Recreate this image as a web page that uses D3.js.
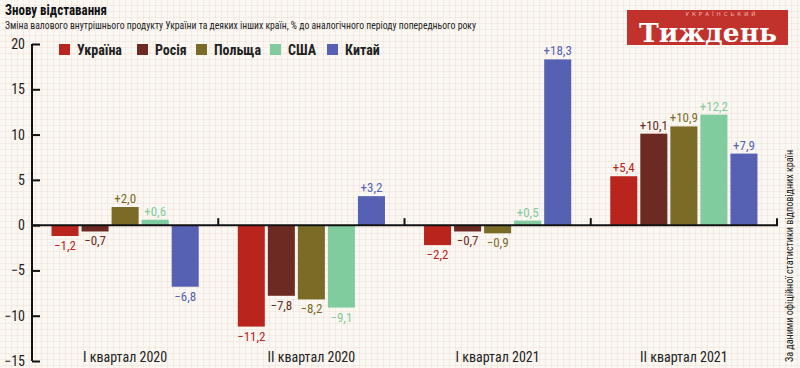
<!DOCTYPE html>
<meta charset="utf-8">
<script src="https://d3js.org/d3.v7.min.js"></script>
<style>
body { margin: 0; background: #fbf8f3; }
.cond { font-family: "Liberation Sans Narrow", "Roboto Condensed", "Open Sans", sans-serif; }
</style>
<div id="chart"></div>
<script>

const quarters = ["I квартал 2020", "II квартал 2020", "I квартал 2021", "II квартал 2021"];
const countries = ["Україна", "Росія", "Польща", "США", "Китай"];
const ukraine = [-1.2, -11.2, -2.2, 5.4];
const russia = [-0.7, -7.8, -0.7, 10.1];
const poland = [2.0, -8.2, -0.9, 10.9];
const usa = [0.6, -9.1, 0.5, 12.2];
const china = [-6.8, 3.2, 18.3, 7.9];
const yTicks = [20, 15, 10, 5, 0, -5, -10, -15];

const series = [ukraine, russia, poland, usa, china];
const colors = ["#b9251d", "#6d2a22", "#7a6c26", "#80cc9e", "#5661b3"];

const W = 800, H = 368;
const svg = d3.select("#chart").append("svg")
    .attr("width", W)
    .attr("height", H);

// graph paper background
const defs = svg.append("defs");
const pat = defs.append("pattern")
    .attr("id", "grid")
    .attr("width", 6)
    .attr("height", 6)
    .attr("patternUnits", "userSpaceOnUse");
pat.append("rect").attr("width", 6).attr("height", 6).attr("fill", "#fbf8f3");
pat.append("path")
    .attr("d", "M6 0 V6 M0 6 H6")
    .attr("stroke", "#eeded8")
    .attr("stroke-width", 1)
    .attr("fill", "none");
svg.append("rect").attr("width", W).attr("height", H).attr("fill", "url(#grid)");

const x0 = d3.scaleBand().domain(quarters).range([32, 777]).padding(0);
const x1 = d3.scaleBand().domain(countries).range([0, x0.bandwidth()])
    .paddingInner(0.1).paddingOuter(0.65);
const y = d3.scaleLinear().domain([-15, 20]).range([361, 44]);

const fmt = v => (v > 0 ? "+" : "\u2212") + d3.format(".1f")(Math.abs(v)).replace(".", ",");

// bars
const groups = svg.append("g").selectAll("g")
  .data(quarters)
  .join("g")
    .attr("transform", d => `translate(${x0(d)},0)`);

groups.selectAll("rect")
  .data((q, qi) => countries.map((c, ci) => ({c, ci, v: series[ci][qi]})))
  .join("rect")
    .attr("x", d => x1(d.c))
    .attr("width", x1.bandwidth())
    .attr("y", d => y(Math.max(0, d.v)))
    .attr("height", d => Math.abs(y(d.v) - y(0)))
    .attr("fill", d => colors[d.ci]);

groups.selectAll("text")
  .data((q, qi) => countries.map((c, ci) => ({c, ci, v: series[ci][qi]})))
  .join("text")
    .attr("class", "cond")
    .attr("x", d => x1(d.c) + x1.bandwidth() / 2)
    .attr("y", d => d.v > 0 ? y(d.v) - 4 : y(d.v) + 14)
    .attr("text-anchor", "middle")
    .attr("font-size", 13)
    .attr("fill", d => colors[d.ci])
    .text(d => fmt(d.v));

// y axis
const yAxis = d3.axisRight(y)
    .tickValues(yTicks)
    .tickSize(8)
    .tickFormat(d => "");
const ya = svg.append("g")
    .attr("transform", "translate(32,0)")
    .call(yAxis);
ya.select(".domain").attr("stroke", "#111").attr("stroke-width", 2)
  .attr("d", `M0,${y(20)}V${y(-15)}`);
ya.selectAll(".tick line").attr("stroke", "#111").attr("stroke-width", 2);

svg.append("g").selectAll("text")
  .data(yTicks)
  .join("text")
    .attr("class", "cond")
    .attr("x", 25)
    .attr("y", d => y(d) + 5)
    .attr("text-anchor", "end")
    .attr("font-size", 14)
    .attr("fill", "#222")
    .text(d => d < 0 ? "\u2212" + Math.abs(d) : d);

// zero line and group separators
svg.append("line")
    .attr("x1", 32).attr("x2", 778)
    .attr("y1", y(0)).attr("y2", y(0))
    .attr("stroke", "#111").attr("stroke-width", 2);
svg.append("g").selectAll("line")
  .data(quarters)
  .join("line")
    .attr("x1", d => x0(d) + x0.bandwidth())
    .attr("x2", d => x0(d) + x0.bandwidth())
    .attr("y1", y(0))
    .attr("y2", y(0) - 7)
    .attr("stroke", "#111").attr("stroke-width", 2);

// category labels
svg.append("g").selectAll("text")
  .data(quarters)
  .join("text")
    .attr("class", "cond")
    .attr("x", d => x0(d) + x0.bandwidth() / 2)
    .attr("y", 362)
    .attr("text-anchor", "middle")
    .attr("font-size", 14)
    .attr("fill", "#222")
    .text(d => d);

// legend
const legX = [59, 137, 196, 270, 327];
const leg = svg.append("g").selectAll("g")
  .data(countries)
  .join("g")
    .attr("transform", (d, i) => `translate(${legX[i]},44)`);
leg.append("rect")
    .attr("width", 11).attr("height", 11)
    .attr("fill", (d, i) => colors[i]);
leg.append("text")
    .attr("class", "cond")
    .attr("x", 18)
    .attr("y", 10.5)
    .attr("font-size", 14)
    .attr("font-weight", "bold")
    .attr("fill", "#222")
    .text(d => d);

// title
svg.append("text")
    .attr("class", "cond")
    .attr("x", 5).attr("y", 15)
    .attr("font-size", 14)
    .attr("font-weight", "bold")
    .attr("textLength", 102)
    .attr("lengthAdjust", "spacingAndGlyphs")
    .attr("fill", "#111")
    .text("Знову відставання");
svg.append("text")
    .attr("class", "cond")
    .attr("x", 5).attr("y", 29)
    .attr("font-size", 11)
    .attr("textLength", 471)
    .attr("lengthAdjust", "spacingAndGlyphs")
    .attr("fill", "#222")
    .text("Зміна валового внутрішнього продукту України та деяких інших країн, % до аналогічного періоду попереднього року");

// source note
svg.append("text")
    .attr("class", "cond")
    .attr("transform", "translate(793,362) rotate(-90)")
    .attr("font-size", 11)
    .attr("textLength", 212)
    .attr("lengthAdjust", "spacingAndGlyphs")
    .attr("fill", "#222")
    .text("За даними офіційної статистики відповідних країн");

// logo
const logo = svg.append("g");
logo.append("rect")
    .attr("x", 627).attr("y", 10)
    .attr("width", 161).attr("height", 35)
    .attr("fill", "#c2322c");
logo.append("text")
    .attr("x", 708).attr("y", 42)
    .attr("text-anchor", "middle")
    .attr("font-family", "'DejaVu Serif', 'Liberation Serif', serif")
    .attr("font-size", 26)
    .attr("font-weight", "bold")
    .attr("textLength", 138)
    .attr("lengthAdjust", "spacingAndGlyphs")
    .attr("fill", "#fff")
    .text("Тиждень");
logo.append("text")
    .attr("x", 722).attr("y", 16)
    .attr("text-anchor", "middle")
    .attr("font-family", "'DejaVu Sans', sans-serif")
    .attr("font-size", 5.5)
    .attr("letter-spacing", 3)
    .attr("fill", "#f0b8b0")
    .text("УКРАЇНСЬКИЙ");

</script>
